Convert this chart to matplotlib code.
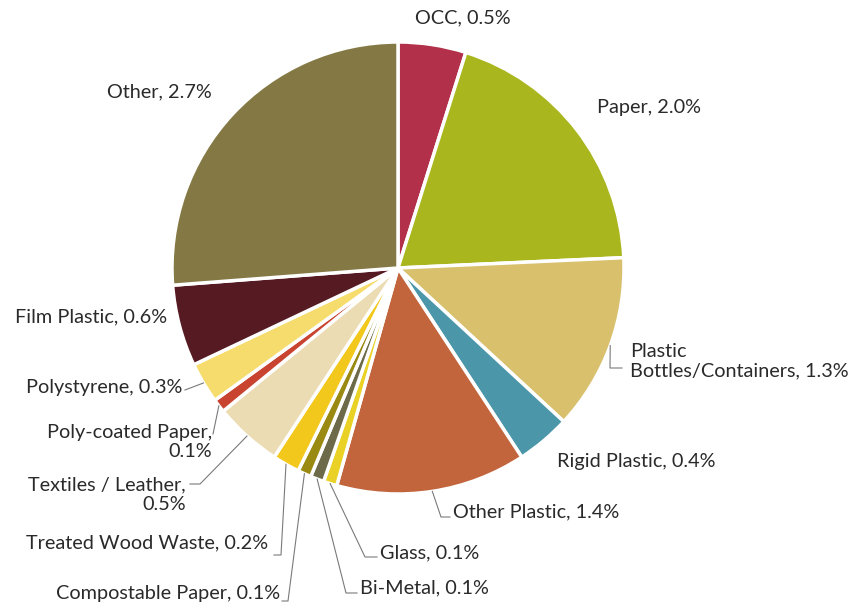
import matplotlib.pyplot as plt
import numpy as np

categories = ["OCC", "Paper", "Plastic\nBottles/Containers", "Rigid Plastic",
              "Other Plastic", "Glass", "Bi-Metal", "Compostable Paper",
              "Treated Wood Waste", "Textiles / Leather", "Poly-coated Paper",
              "Polystyrene", "Film Plastic", "Other"]
shares = [0.5, 2.0, 1.3, 0.4, 1.4, 0.1, 0.1, 0.1, 0.2, 0.5, 0.1, 0.3, 0.6, 2.7]
colors = ["#b2304a", "#a9b61e", "#d8c06c", "#4b97a9", "#c2653c", "#e9d126",
          "#6c6a48", "#9a8a12", "#f2c81c", "#ecdcb4", "#c94430", "#f6dc6c",
          "#561a22", "#847944"]

W, H = 859, 608
plt.rcParams['font.family'] = ['Lato', 'DejaVu Sans']

fig = plt.figure(figsize=(W / 100, H / 100), dpi=100)
ax = fig.add_axes([0, 0, 1, 1])

wedges, _ = ax.pie(shares, colors=colors, startangle=90, counterclock=False,
                   center=(398, H - 268), radius=226,
                   wedgeprops=dict(edgecolor='white', linewidth=2.5))
ax.set_xlim(0, W)
ax.set_ylim(0, H)
ax.set_aspect('equal')
ax.axis('off')

# label placement: text anchor (x, y in pixels from top), alignment,
# and leader path (elbow points) from the wedge edge to the text
place = {
    "OCC": (463, 18, 'center', None),
    "Paper": (649, 108, 'center', None),
    "Plastic\nBottles/Containers": (630, 361, 'left', [(610, 368), (622, 368)]),
    "Rigid Plastic": (557, 462, 'left', None),
    "Other Plastic": (453, 512, 'left', [(441, 517), (450, 517)]),
    "Glass": (380, 553, 'left', [(365, 557), (377, 557)]),
    "Bi-Metal": (360, 588, 'left', [(346, 593), (357, 593)]),
    "Compostable Paper": (280, 594, 'right', [(288, 601), (282, 601)]),
    "Treated Wood Waste": (268, 543, 'right', [(281, 555), (274, 555)]),
    "Textiles / Leather": (186, 495, 'right', [(200, 484), (190, 484)]),
    "Poly-coated Paper": (212, 442, 'right', [(213, 434)]),
    "Polystyrene": (182, 387, 'right', [(185, 390)]),
    "Film Plastic": (167, 317, 'right', None),
    "Other": (212, 92, 'right', None),
}

for w, name, v in zip(wedges, categories, shares):
    x, y, ha, path = place[name]
    if name in ("Textiles / Leather", "Poly-coated Paper"):
        txt = f"{name},\n{v:.1f}%"
    else:
        txt = f"{name}, {v:.1f}%"
    ax.text(x, H - y, txt, ha=ha, va='center', fontsize=14.3,
            color='#2a2a2a', linespacing=1.2, multialignment=ha)
    if path:
        m = np.deg2rad((w.theta1 + w.theta2) / 2)
        cx, cy = w.center
        ax0 = cx + w.r * np.cos(m)
        ay0 = cy + w.r * np.sin(m)
        xs = [ax0] + [p[0] for p in path]
        ys = [ay0] + [H - p[1] for p in path]
        ax.plot(xs, ys, color='#7a7a7a', lw=0.8)

fig.savefig("out.png", dpi=100)
